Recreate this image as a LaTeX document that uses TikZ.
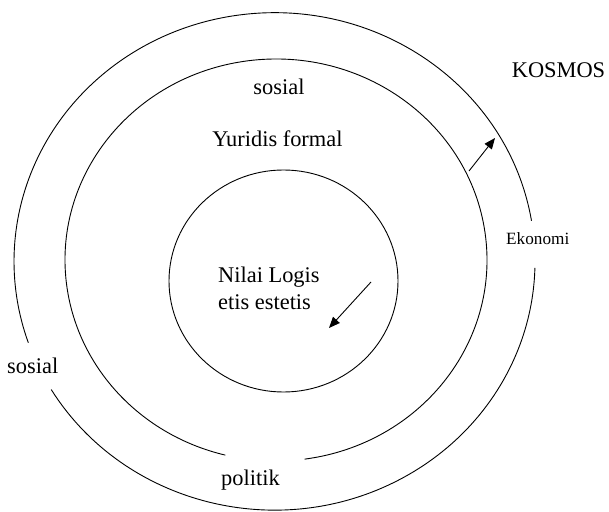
\documentclass[tikz,border=0pt]{standalone}
\usepackage{fontspec}
\setmainfont{Liberation Serif}
\usetikzlibrary{arrows.meta}
\begin{document}
\begin{tikzpicture}[x=1pt,y=1pt,
  ring/.style={line width=0.9pt,black},
  lbl/.style={inner sep=0pt,font=\fontsize{22.4}{27}\selectfont},
  smalllbl/.style={inner sep=0pt,font=\fontsize{17.2}{20}\selectfont},
  pointer/.style={line width=0.9pt,-{Triangle[length=11pt,width=9pt]}}]
\useasboundingbox (0,0) rectangle (609,511);
% outer ring (with gaps at left and right)
\draw[ring] (274.5,249.6) ++(9.4:260.5 and 248.7)
  arc[start angle=9.4,end angle=199.1,x radius=260.5,y radius=248.7];
\draw[ring] (274.5,249.6) ++(211:260.5 and 248.7)
  arc[start angle=211,end angle=358.5,x radius=260.5,y radius=248.7];
% middle ring (gap at bottom)
\draw[ring] (276,251) ++(277.8:211 and 201)
  arc[start angle=277.8,end angle=616.1,x radius=211,y radius=201];
% inner ring
\draw[ring] (283.5,230) ellipse[x radius=114.5,y radius=111];
% labels
\node[lbl,anchor=base] (kosmos) at (558.5,433) {KOSMOS};
\node[lbl,anchor=base] (sosialtop) at (279,416) {sosial};
\node[lbl,anchor=base] (yuridis) at (277.5,364) {Yuridis formal};
\node[lbl,anchor=base west] (nilai) at (218,228) {Nilai Logis};
\node[lbl,anchor=base west] (etis) at (218,201) {etis estetis};
\node[smalllbl,anchor=base west] (ekonomi) at (506,266) {Ekonomi};
\node[lbl,anchor=base west] (sosialleft) at (7,138) {sosial};
\node[lbl,anchor=base west] (politik) at (221,26) {politik};
% arrows
\coordinate (a1s) at (469,340);
\coordinate (a1e) at (495,373);
\coordinate (a2s) at (371,229);
\coordinate (a2e) at (329,183);
\draw[pointer] (a1s) -- (a1e);
\draw[pointer] (a2s) -- (a2e);
\end{tikzpicture}
\end{document}
